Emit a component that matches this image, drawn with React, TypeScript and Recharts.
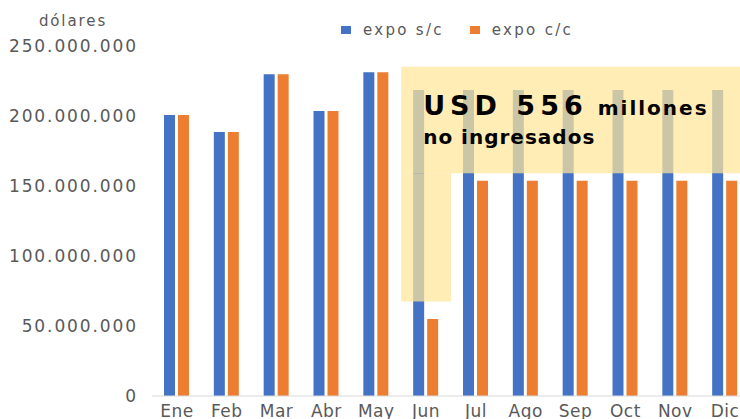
import { BarChart, Bar, XAxis, YAxis, Legend, ReferenceArea } from "recharts";

const months = ["Ene", "Feb", "Mar", "Abr", "May", "Jun", "Jul", "Ago", "Sep", "Oct", "Nov", "Dic"];

// dólares por mes
const expoSinCepo = [
  200_700_000, 188_600_000, 229_800_000, 203_600_000, 231_200_000, 218_600_000,
  218_600_000, 218_600_000, 218_600_000, 218_600_000, 218_600_000, 218_600_000,
];
const expoConCepo = [
  200_700_000, 188_600_000, 229_800_000, 203_600_000, 231_200_000, 55_000_000,
  153_800_000, 153_800_000, 153_800_000, 153_800_000, 153_800_000, 153_800_000,
];

const yTicks = [0, 50_000_000, 100_000_000, 150_000_000, 200_000_000, 250_000_000];

// recuadro amarillo (meses sin ingreso)
const highlightTop = { x1: "Jun", x2: "Dic", y1: 159_100_000, y2: 235_200_000 };
const highlightJun = { x1: "Jun", x2: "Jun", y1: 67_500_000, y2: 159_100_000 };

const series = [
  { key: "sc", name: "expo s/c", color: "#4472C4" },
  { key: "cc", name: "expo c/c", color: "#ED7D31" },
];

const data = months.map((m, i) => ({ mes: m, sc: expoSinCepo[i], cc: expoConCepo[i] }));

const FONT = "'DejaVu Sans', sans-serif";
const GRAY = "#595959";
const W = 770;
const H = 419;
const AXIS_W = 152;
const AXIS_H = 23;

const fmt = (v: number) => String(v).replace(/\B(?=(\d{3})+(?!\d))/g, ".");

function LegendContent() {
  return (
    <div style={{ display: "flex", alignItems: "center", fontFamily: FONT, fontSize: 15, color: GRAY, letterSpacing: 2.3 }}>
      {series.map((s) => (
        <div key={s.key} style={{ display: "flex", alignItems: "center", marginRight: 26 }}>
          <span style={{ width: 10, height: 8, background: s.color, display: "inline-block", marginRight: 12 }} />
          <span>{s.name}</span>
        </div>
      ))}
    </div>
  );
}

function NoteLabel(props: any) {
  const { x, y } = props.viewBox;
  return (
    <g fontFamily={FONT} fontWeight="bold" fill="#000">
      <text x={x + 22} y={y + 48}>
        <tspan fontSize={27} letterSpacing={5}>USD 556</tspan>
        <tspan fontSize={20} letterSpacing={2} dx={10}>millones</tspan>
      </text>
      <text x={x + 22} y={y + 77} fontSize={20} letterSpacing={1}>
        no ingresados
      </text>
    </g>
  );
}

export default function App() {
  return (
    <div style={{ position: "absolute", left: 0, top: 0, width: 740, height: H, overflow: "hidden", background: "#fff" }}>
      <BarChart
        width={W}
        height={H}
        data={data}
        margin={{ top: 46, right: 20, bottom: 0, left: 0 }}
        barSize={11}
        barGap={3}
      >
        <XAxis
          dataKey="mes"
          height={AXIS_H}
          tickLine={false}
          tickSize={7}
          tickMargin={2}
          axisLine={{ stroke: "#D9D9D9" }}
          tick={{ fill: GRAY, fontSize: 17, fontFamily: FONT, letterSpacing: 0.5 }}
          interval={0}
        />
        <YAxis
          width={AXIS_W}
          domain={[0, 250_000_000]}
          ticks={yTicks}
          tickFormatter={fmt}
          axisLine={false}
          tickLine={false}
          tickSize={14}
          tickMargin={0}
          tick={{ fill: GRAY, fontSize: 17, fontFamily: FONT, letterSpacing: 1.9 }}
          label={{ value: "dólares", position: "top", offset: 20, dx: -3, fill: GRAY, fontSize: 15, fontFamily: FONT, letterSpacing: 1.9 }}
        />
        <Legend
          layout="horizontal"
          verticalAlign="middle"
          align="center"
          wrapperStyle={{ left: 341, top: 21, width: 420 }}
          content={LegendContent}
        />
        {series.map((s) => (
          <Bar key={s.key} dataKey={s.key} name={s.name} fill={s.color} isAnimationActive={false} />
        ))}
      </BarChart>

      {/* capa superior con el recuadro, mismas escalas que el gráfico */}
      <div style={{ position: "absolute", left: 0, top: 0, pointerEvents: "none" }}>
        <BarChart
          width={W}
          height={H}
          data={data}
          margin={{ top: 46, right: 20, bottom: AXIS_H, left: AXIS_W }}
        >
          <XAxis dataKey="mes" hide />
          <YAxis domain={[0, 250_000_000]} hide />
          <Bar dataKey="sc" fill="none" fillOpacity={0} isAnimationActive={false} />
          <ReferenceArea {...highlightJun} fill="#FFE699" fillOpacity={0.72} stroke="none" ifOverflow="visible" />
          <ReferenceArea
            {...highlightTop}
            fill="#FFE699"
            fillOpacity={0.72}
            stroke="none"
            ifOverflow="visible"
            label={NoteLabel}
          />
        </BarChart>
      </div>
    </div>
  );
}
